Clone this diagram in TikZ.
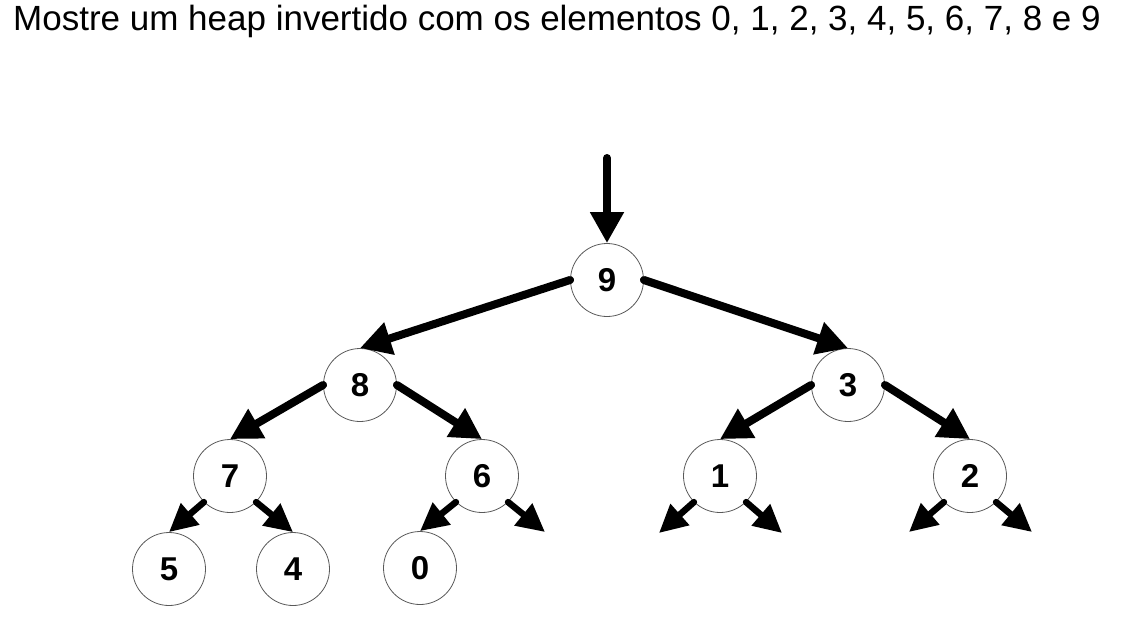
\documentclass[tikz,border=0pt]{standalone}
\usepackage{fontspec}
\setmainfont{Liberation Sans}
\usetikzlibrary{arrows.meta}
\tikzset{
  vertex/.style={circle, draw=black!65, line width=0.8pt, minimum size=73pt, inner sep=0pt,
    font=\bfseries\fontsize{33}{33}\selectfont},
  bigarrow/.style={line width=8pt, line cap=round, -{Triangle[length=31pt,width=32pt]}},
  smallarrow/.style={line width=6.5pt, line cap=round, -{Triangle[length=28pt,width=27pt]}},
  title/.style={inner sep=0pt, anchor=base west, font=\fontsize{35}{42}\selectfont}
}
\begin{document}
\begin{tikzpicture}[x=1pt,y=-1pt]
\useasboundingbox (0,0) rectangle (1137,633);
\node[title] (t) at (13,30) {Mostre um heap invertido com os elementos 0, 1, 2, 3, 4, 5, 6, 7, 8 e 9};
\node[vertex] (n9) at (607,280) {9};
\node[vertex] (n8) at (360,385) {8};
\node[vertex] (n3) at (848,385) {3};
\node[vertex] (n7) at (230,476) {7};
\node[vertex] (n6) at (482,476) {6};
\node[vertex] (n1) at (720,476) {1};
\node[vertex] (n2) at (970,476) {2};
\node[vertex] (n5) at (169,569) {5};
\node[vertex] (n4) at (293,569) {4};
\node[vertex] (n0) at (420,568) {0};
\coordinate (top) at (607,158);
\coordinate (c6r) at (545,532);
\coordinate (c1l) at (659,533);
\coordinate (c1r) at (782,533);
\coordinate (c2l) at (909,532);
\coordinate (c2r) at (1032,532);
\draw[bigarrow] (top) -- (n9.north);
\draw[bigarrow] (n9.west) -- (n8.north);
\draw[bigarrow] (n9.east) -- (n3.north);
\draw[bigarrow] (n8.west) -- (n7.north);
\draw[bigarrow] (n8.east) -- (n6.north);
\draw[bigarrow] (n3.west) -- (n1.north);
\draw[bigarrow] (n3.east) -- (n2.north);
\draw[smallarrow] (n7.south west) -- (n5.north);
\draw[smallarrow] (n7.south east) -- (n4.north);
\draw[smallarrow] (n6.south west) -- (n0.north);
\draw[smallarrow] (n6.south east) -- (c6r);
\draw[smallarrow] (n1.south west) -- (c1l);
\draw[smallarrow] (n1.south east) -- (c1r);
\draw[smallarrow] (n2.south west) -- (c2l);
\draw[smallarrow] (n2.south east) -- (c2r);
\end{tikzpicture}
\end{document}
